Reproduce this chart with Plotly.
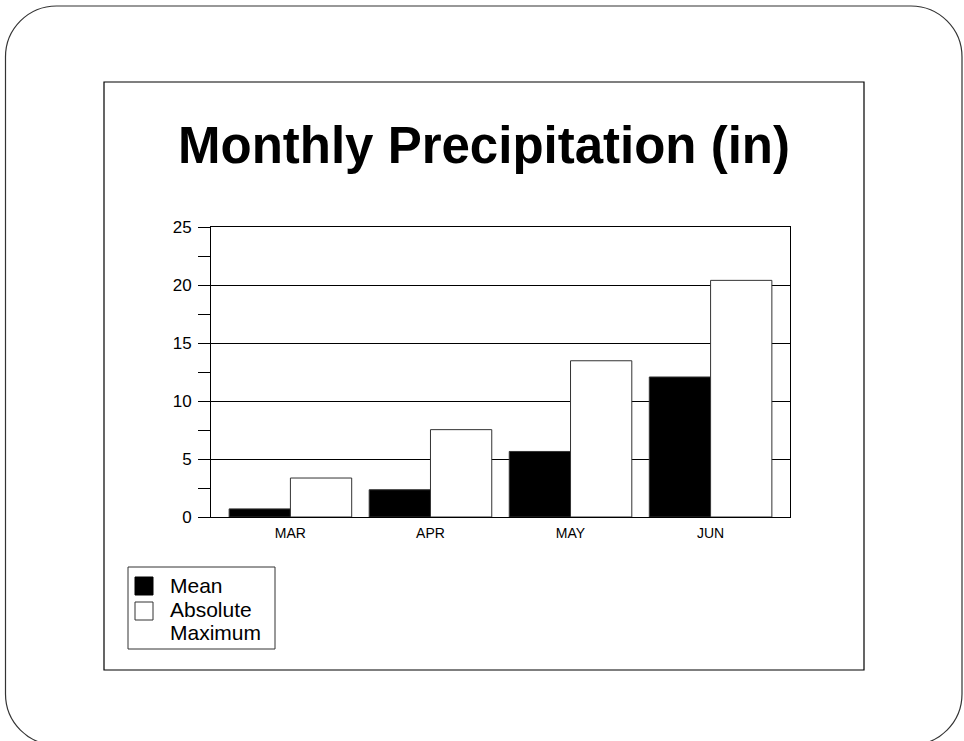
import plotly.graph_objects as go

months = ["MAR", "APR", "MAY", "JUN"]
mean_precip = [0.7, 2.35, 5.65, 12.07]
max_precip = [3.36, 7.53, 13.47, 20.4]
y_ticks = [0, 5, 10, 15, 20, 25]

W, H = 964, 741
ML, MR, MT, MB = 211, 174, 227, 224
PW, PH = W - ML - MR, H - MT - MB


def px(x):
    return (x - ML) / PW


def py(y):
    return 1 - (y - MT) / PH


FONT = "Arial, Liberation Sans, sans-serif"

fig = go.Figure()
fig.add_trace(go.Bar(x=months, y=mean_precip, name="Mean",
                     marker=dict(color="black", line=dict(color="#333333", width=1)),
                     showlegend=False))
fig.add_trace(go.Bar(x=months, y=max_precip, name="Absolute Maximum",
                     marker=dict(color="white", line=dict(color="#333333", width=1)),
                     showlegend=False))

# rounded outer frame
x0, x1, y0, y1, r = 5.5, 962, 6, 745, 51
k = 0.5523 * r


def P(x, y):
    return f"{px(x):.5f},{py(y):.5f}"


path = (
    f"M {P(x0 + r, y0)} L {P(x1 - r, y0)} "
    f"C {P(x1 - r + k, y0)} {P(x1, y0 + r - k)} {P(x1, y0 + r)} "
    f"L {P(x1, y1 - r)} "
    f"C {P(x1, y1 - r + k)} {P(x1 - r + k, y1)} {P(x1 - r, y1)} "
    f"L {P(x0 + r, y1)} "
    f"C {P(x0 + r - k, y1)} {P(x0, y1 - r + k)} {P(x0, y1 - r)} "
    f"L {P(x0, y0 + r)} "
    f"C {P(x0, y0 + r - k)} {P(x0 + r - k, y0)} {P(x0 + r, y0)} Z"
)
shapes = [
    dict(type="path", xref="paper", yref="paper", path=path,
         line=dict(color="#333333", width=1.2), layer="below"),
    dict(type="rect", xref="paper", yref="paper",
         x0=px(104), x1=px(864), y0=py(670), y1=py(82),
         line=dict(color="black", width=1.2), layer="below"),
    # legend box
    dict(type="rect", xref="paper", yref="paper",
         x0=px(128), x1=px(275), y0=py(649), y1=py(567),
         line=dict(color="#333333", width=1)),
    dict(type="rect", xref="paper", yref="paper",
         x0=px(135), x1=px(153), y0=py(595), y1=py(577),
         fillcolor="black", line=dict(color="black", width=1)),
    dict(type="rect", xref="paper", yref="paper",
         x0=px(135), x1=px(153), y0=py(620), y1=py(602),
         fillcolor="white", line=dict(color="#333333", width=1)),
]

annotations = []
for txt, yb in [("Mean", 592), ("Absolute", 616), ("Maximum", 639)]:
    annotations.append(dict(text=txt, xref="paper", yref="paper",
                            x=px(168), y=py(yb - 7), xanchor="left", yanchor="middle",
                            showarrow=False, font=dict(family=FONT, size=21, color="black")))

fig.update_layout(
    width=W, height=H,
    margin=dict(l=ML, r=MR, t=MT, b=MB, pad=0),
    paper_bgcolor="white", plot_bgcolor="white",
    barmode="group", bargap=0.125, bargroupgap=0,
    title=dict(text="<b>Monthly Precipitation (in)</b>", x=484 / W, xref="container",
               xanchor="center", y=1 - 145 / H, yref="container", yanchor="middle",
               font=dict(family=FONT, size=51, color="black")),
    font=dict(family=FONT, color="black"),
    xaxis=dict(type="category", range=[-0.567, 3.567], showline=True, mirror=True,
               linecolor="black", linewidth=1, ticks="", showgrid=False,
               ticklabelstandoff=3,
               tickfont=dict(size=14, color="black")),
    yaxis=dict(range=[0, 25], tickvals=y_ticks, ticktext=[str(v) for v in y_ticks],
               ticks="outside", ticklen=12, tickcolor="black", tickwidth=1,
               showline=True, mirror=True, linecolor="black", linewidth=1,
               showgrid=True, gridcolor="black", gridwidth=1, zeroline=False,
               ticklabelstandoff=3,
               tickfont=dict(size=17, color="black"),
               minor=dict(tickvals=[2.5, 7.5, 12.5, 17.5, 22.5], ticks="outside",
                          ticklen=12, tickcolor="black", tickwidth=1, showgrid=False)),
    shapes=shapes, annotations=annotations,
)

fig.write_html("out.html", config={"displayModeBar": False},
               post_script="document.body.style.margin='0';document.body.style.overflow='hidden';")
